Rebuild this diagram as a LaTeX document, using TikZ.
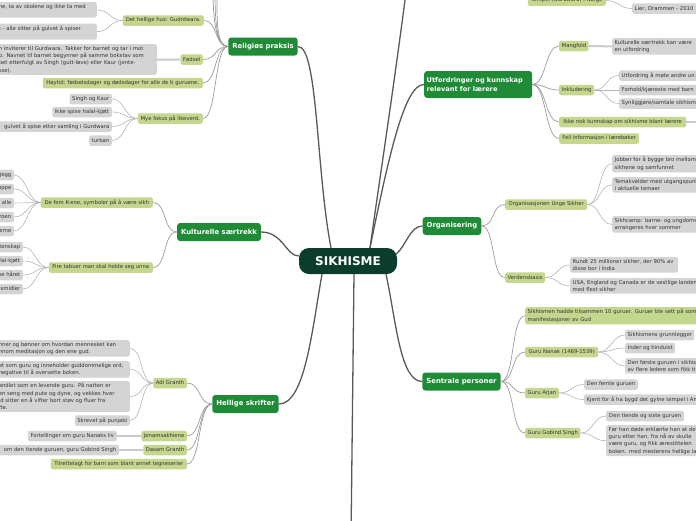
\documentclass[tikz,border=0pt]{standalone}
\usepackage{fontspec}
\setmainfont{DejaVu Sans}
\usetikzlibrary{calc}
\definecolor{coregreen}{HTML}{0B3D2C}
\definecolor{maingreen}{HTML}{1F8B36}
\definecolor{subgreen}{HTML}{C5D68E}
\definecolor{leafgray}{HTML}{D4D4D4}
\definecolor{txt}{HTML}{333333}
\definecolor{mainline}{HTML}{595959}
\definecolor{subline}{HTML}{9C9C9C}
\definecolor{leafline}{HTML}{B4B4B4}
\definecolor{thickline}{HTML}{CACACA}
\begin{document}
\begin{tikzpicture}[x=1pt,y=-1pt,
 leafbox/.style={fill=leafgray, text=txt, rounded corners=2pt, font=\fontsize{5.3}{7.3}\selectfont, inner xsep=2.5pt, inner ysep=2pt, minimum height=10.5pt, align=left},
 subbox/.style={leafbox, fill=subgreen},
 mainbox/.style={fill=maingreen, text=white, rounded corners=3pt, font=\bfseries\fontsize{6.9}{8.8}\selectfont, inner xsep=4pt, inner ysep=2pt, minimum height=18pt, align=left},
 corebox/.style={fill=coregreen, text=white, rounded corners=10pt, font=\bfseries\fontsize{12}{14}\selectfont, minimum width=98pt, minimum height=26pt},
 mline/.style={draw=mainline, line width=1.3pt},
 sline/.style={draw=subline, line width=0.7pt},
 lline/.style={draw=leafline, line width=0.6pt},
 tline/.style={draw=thickline, line width=2pt}]
\useasboundingbox (0,0) rectangle (696,520);
\clip (0,0) rectangle (696,520);

% ---------- nodes ----------
\node[corebox] (core) at (348,261) {SIKHISME};

\node[mainbox, minimum width=68pt] (rel) at (263,46.5) {Religiøs praksis};
\node[mainbox, minimum width=82pt] (kul) at (219,232) {Kulturelle særtrekk};
\node[mainbox, minimum width=63pt] (hel) at (245.5,404) {Hellige skrifter};
\node[mainbox, anchor=west, inner xsep=2.5pt, text width=103pt, minimum height=27pt, font=\bfseries\fontsize{6.6}{8.8}\selectfont] (utf) at (424,84.5) {Utfordringer og kunnskap\\relevant for lærere};
\node[mainbox, minimum width=56pt] (org) at (452,226) {Organisering};
\node[mainbox, minimum width=77pt] (sent) at (461.5,381.5) {Sentrale personer};

% Religiøs praksis
\node[subbox, anchor=east, minimum width=81pt] (hus) at (204,20.5) {Det hellige hus: Gudrdwara.};
\node[subbox, anchor=east, minimum width=20pt] (fodsel) at (203,59.5) {Fødsel};
\node[subbox, anchor=east, minimum width=160pt] (hoytid) at (203,83) {Høytid: fødselsdager og dødsdager for alle de ti guruene.};
\node[subbox, anchor=east, minimum width=65pt] (mye) at (203,118.5) {Mye fokus på likeverd.};

\node[leafbox, anchor=north east, text width=95.5pt] (hus1) at (97,2) {ne, ta av skolene og ikke ta med\\\mbox{}};
\node[leafbox, anchor=north east, text width=95.5pt] (hus2) at (97,23.5) {t - alle sitter på gulvet å spiser\\\mbox{}};
\node[leafbox, anchor=north east, text width=155.5pt] (fod1) at (157,44) {n inviterer til Gurdwara. Takker for barnet og tar i mot\\p. Navnet til barnet begynner på samme bokstav som\\pet etterfulgt av Singh (gutt-løve) eller Kaur (jente-\\sse).};
\node[leafbox, anchor=east, minimum width=41pt] (mye1) at (112,99) {Singh og Kaur};
\node[leafbox, anchor=east, minimum width=59pt] (mye2) at (112,112) {Ikke spise halal-kjøtt};
\node[leafbox, anchor=east, text width=140pt, align=right] (mye3) at (112,126.5) {gulvet å spise etter samling i Gurdwara};
\node[leafbox, anchor=east, minimum width=20pt] (mye4) at (112,140.5) {turban};

% Kulturelle særtrekk
\node[subbox, anchor=east, minimum width=112pt] (defem) at (153,202.5) {De fem K-ene, symboler på å være sikh};
\node[subbox, anchor=east, minimum width=104pt] (fire) at (153,267.5) {Fire tabuer man skal holde seg unna};

\node[leafbox, anchor=east, text width=30pt, align=right] (k1) at (14,175) {jegg};
\node[leafbox, anchor=east, text width=30pt, align=right] (k2) at (14,189) {oppe};
\node[leafbox, anchor=east, text width=30pt, align=right] (k3) at (14,203) {l alle};
\node[leafbox, anchor=east, text width=30pt, align=right] (k4) at (14,217) {roen};
\node[leafbox, anchor=east, text width=30pt, align=right] (k5) at (14,231) {erne};
\node[leafbox, anchor=east, text width=40pt, align=right] (t1) at (23,247) {ktenskap};
\node[leafbox, anchor=east, text width=40pt, align=right] (t2) at (23,261) {lal-kjøtt};
\node[leafbox, anchor=east, text width=40pt, align=right] (t3) at (23,275) {pe håret};
\node[leafbox, anchor=east, text width=40pt, align=right] (t4) at (23,289) {smidler};

% Hellige skrifter
\node[subbox, anchor=east, minimum width=31pt] (adi) at (187,383) {Adi Granth};
\node[subbox, anchor=east, minimum width=44pt] (jenam) at (187,436) {Jenamsakhiene};
\node[subbox, anchor=east, minimum width=42pt] (dasam) at (187,450) {Dasam Granth};
\node[subbox, anchor=east, minimum width=136pt] (tilr) at (187,464) {Tilrettelagt for barn som blant annet tegneserier};

\node[leafbox, anchor=north east, text width=128.5pt] (adi1) at (130,340) {nner og bønner om hvordan mennesket kan\\nnom meditasjon og den ene gud.};
\node[leafbox, anchor=north east, text width=128.5pt] (adi2) at (130,361) {et som guru og inneholder guddommelige ord,\\negative til å oversette boken.};
\node[leafbox, anchor=north east, text width=128.5pt] (adi3) at (130,381) {andlet som en levende guru. På natten er\\en seng med pute og dyne, og vekkes hver\\id sitter en å vifter bort støv og fluer fra\\fte.};
\node[leafbox, anchor=east, minimum width=55pt] (adi4) at (130,420.5) {Skrevet på punjabi};
\node[leafbox, anchor=east, minimum width=89pt] (jen1) at (117,436) {Fortellinger om guru Nanaks liv};
\node[leafbox, anchor=east, text width=150pt, align=right] (das1) at (119,450) {om den tiende guruen, guru Gobind Singh};

% Utfordringer
\node[subbox, anchor=east, minimum width=78pt] (tempel) at (606,0.5) {Tempel (Gurdwara) i Norge};
\node[leafbox, anchor=west, text width=80pt] (lier) at (632,8.5) {Lier, Drammen - 2010};

\node[subbox, anchor=west, minimum width=27pt] (mang) at (559,46) {Mangfold};
\node[subbox, anchor=west, minimum width=34pt] (inkl) at (559,90) {Inkludering};
\node[subbox, anchor=west, minimum width=127pt] (ikke) at (559,122) {Ikke nok kunnskap om sikhisme blant lærere};
\node[subbox, anchor=west, minimum width=80pt] (feil) at (559,138.5) {Feil informasjon i lærebøker};
\coordinate (ikkeend) at (705,122);

\node[leafbox, anchor=north west, text width=100pt] (mang1) at (612,38) {Kulturelle særtrekk kan være\\en utfordring};
\node[leafbox, anchor=west, text width=90pt] (inkl1) at (619,75.5) {Utfordring å møte andre un};
\node[leafbox, anchor=west, text width=90pt] (inkl2) at (619,90) {Forhold/kjæreste med barn};
\node[leafbox, anchor=west, text width=90pt] (inkl3) at (619,103.5) {Synliggjøre/samtale sikhism};

% Organisering
\node[subbox, anchor=west, minimum width=82pt] (unge) at (505,204.5) {Organisasjonen Unge Sikher};
\node[subbox, anchor=west, minimum width=39pt] (verd) at (505,277.5) {Verdensbasis};
\node[leafbox, anchor=north west, text width=100pt] (unge1) at (612,155) {Jobber for å bygge bro mellom\\sikhene og samfunnet};
\node[leafbox, anchor=north west, text width=100pt] (unge2) at (612,177) {Temakvelder med utgangspunkt\\i aktuelle temaer};
\node[leafbox, anchor=north west, text width=100pt] (unge3) at (612,216) {Sikhcamp: barne- og ungdoms\\arrangeres hver sommer};
\node[leafbox, anchor=north west, text width=103pt] (verd1) at (570,257) {Rundt 25 millioner sikher, der 90\% av\\disse bor i India};
\node[leafbox, anchor=north west, text width=140pt] (verd2) at (570,278) {USA, England og Canada er de vestlige landene\\med flest sikher};

% Sentrale personer
\node[subbox, anchor=north west, text width=180pt] (ant) at (525,307) {Sikhismen hadde tilsammen 10 guruer. Guruer ble sett på som\\manifestasjoner av Gud};
\node[subbox, anchor=west, minimum width=73pt] (nanak) at (525,352) {Guru Nanak (1469-1539)};
\node[subbox, anchor=west, minimum width=33pt] (arjan) at (525,393) {Guru Arjan};
\node[subbox, anchor=west, minimum width=55pt] (gobind) at (525,433) {Guru Gobind Singh};
\node[leafbox, anchor=west, minimum width=65pt] (nan1) at (625,335) {Sikhismens grunnlegger};
\node[leafbox, anchor=west, minimum width=49pt] (nan2) at (625,348) {Inder og hinduist};
\node[leafbox, anchor=north west, text width=90pt] (nan3) at (625,358) {Den første guruen i sikhismen\\av flere ledere som fikk tittelen};
\node[leafbox, anchor=west, minimum width=53pt] (arj1) at (584,384.5) {Den femte guruen};
\node[leafbox, anchor=west, text width=130pt] (arj2) at (584,399.5) {Kjent for å ha bygd det gylne tempel i Amritsar};
\node[leafbox, anchor=west, minimum width=78pt] (gob1) at (606,416) {Den tiende og siste guruen};
\node[leafbox, anchor=north west, text width=100pt] (gob2) at (606,425) {Før han døde erklærte han at det\\guru etter han, fra nå av skulle\\være guru, og fikk ærestittelen\\boken. med mesterens hellige lære};

\coordinate (up1) at (213,-10);
\coordinate (up2) at (215,-10);
\coordinate (up3) at (217,-10);
\coordinate (topend) at (410,-40);
\coordinate (downend) at (351,540);

% ---------- main connectors ----------
\draw[mline] (rel.east) .. controls (318,46) and (316,170) .. ($(core.north)+(-17,0)$);
\draw[mline] (kul.east) .. controls (283,232) and (286,256) .. ($(core.west)+(0,-5)$);
\draw[mline] ($(core.south)+(-26,0)$) .. controls (312,330) and (305,404) .. (hel.east);
\draw[mline] ($(core.south)+(6,0)$) -- (downend);
\draw[mline] ($(core.east)+(-1,-7)$) .. controls (406,246) and (410,226) .. (org.west);
\draw[mline] ($(core.south)+(38,0)$) .. controls (396,320) and (400,381.5) .. (sent.west);
\draw[mline] ($(core.north)+(22,0)$) .. controls (390,150) and (405,84.5) .. (utf.west);
\draw[mline] ($(core.north)+(22,0)$) .. controls (378,190) and (398,60) .. (topend);

% ---------- Religiøs praksis ----------
\foreach \n in {hus,fodsel,hoytid,mye}
  \draw[sline] (\n.east) .. controls +(14,0) and +(-14,0) .. (rel.west);
\foreach \n in {up1,up2,up3}
  \draw[sline] (rel.west) .. controls +(-12,0) and +(0,30) .. (\n);
\foreach \n in {hus1,hus2}
  \draw[lline] (\n.east) .. controls +(13,0) and +(-13,0) .. (hus.west);
\draw[tline] (fod1.east) -- (fodsel.west);
\foreach \n in {mye1,mye2,mye3,mye4}
  \draw[lline] (\n.east) .. controls +(13,0) and +(-13,0) .. (mye.west);

% ---------- Kulturelle særtrekk ----------
\foreach \n in {defem,fire}
  \draw[sline] (\n.east) .. controls +(14,0) and +(-14,0) .. (kul.west);
\foreach \n in {k1,k2,k3,k4,k5}
  \draw[lline] (\n.east) .. controls +(13,0) and +(-13,0) .. (defem.west);
\foreach \n in {t1,t2,t3,t4}
  \draw[lline] (\n.east) .. controls +(13,0) and +(-13,0) .. (fire.west);

% ---------- Hellige skrifter ----------
\foreach \n in {adi,jenam,dasam,tilr}
  \draw[sline] (\n.east) .. controls +(14,0) and +(-14,0) .. (hel.west);
\foreach \n in {adi1,adi2,adi3,adi4}
  \draw[lline] (\n.east) .. controls +(13,0) and +(-13,0) .. (adi.west);
\draw[tline] (jen1.east) -- (jenam.west);
\draw[tline] (das1.east) -- (dasam.west);

% ---------- Utfordringer ----------
\draw[lline] (tempel.east) .. controls +(13,0) and +(-13,0) .. (lier.west);
\foreach \n in {mang,inkl,ikke,feil}
  \draw[sline] (utf.east) .. controls +(14,0) and +(-14,0) .. (\n.west);
\draw[tline] (mang.east) -- (mang1.west);
\foreach \n in {inkl1,inkl2,inkl3}
  \draw[lline] (inkl.east) .. controls +(13,0) and +(-13,0) .. (\n.west);
\draw[tline] (ikke.east) -- (ikkeend);

% ---------- Organisering ----------
\foreach \n in {unge,verd}
  \draw[sline] (org.east) .. controls +(14,0) and +(-14,0) .. (\n.west);
\foreach \n in {unge1,unge2,unge3}
  \draw[lline] (unge.east) .. controls +(13,0) and +(-13,0) .. (\n.west);
\foreach \n in {verd1,verd2}
  \draw[lline] (verd.east) .. controls +(13,0) and +(-13,0) .. (\n.west);

% ---------- Sentrale personer ----------
\foreach \n in {ant,nanak,arjan,gobind}
  \draw[sline] (sent.east) .. controls +(14,0) and +(-14,0) .. (\n.west);
\foreach \n in {nan1,nan2,nan3}
  \draw[lline] (nanak.east) .. controls +(13,0) and +(-13,0) .. (\n.west);
\foreach \n in {arj1,arj2}
  \draw[lline] (arjan.east) .. controls +(13,0) and +(-13,0) .. (\n.west);
\foreach \n in {gob1,gob2}
  \draw[lline] (gobind.east) .. controls +(13,0) and +(-13,0) .. (\n.west);
\end{tikzpicture}
\end{document}
